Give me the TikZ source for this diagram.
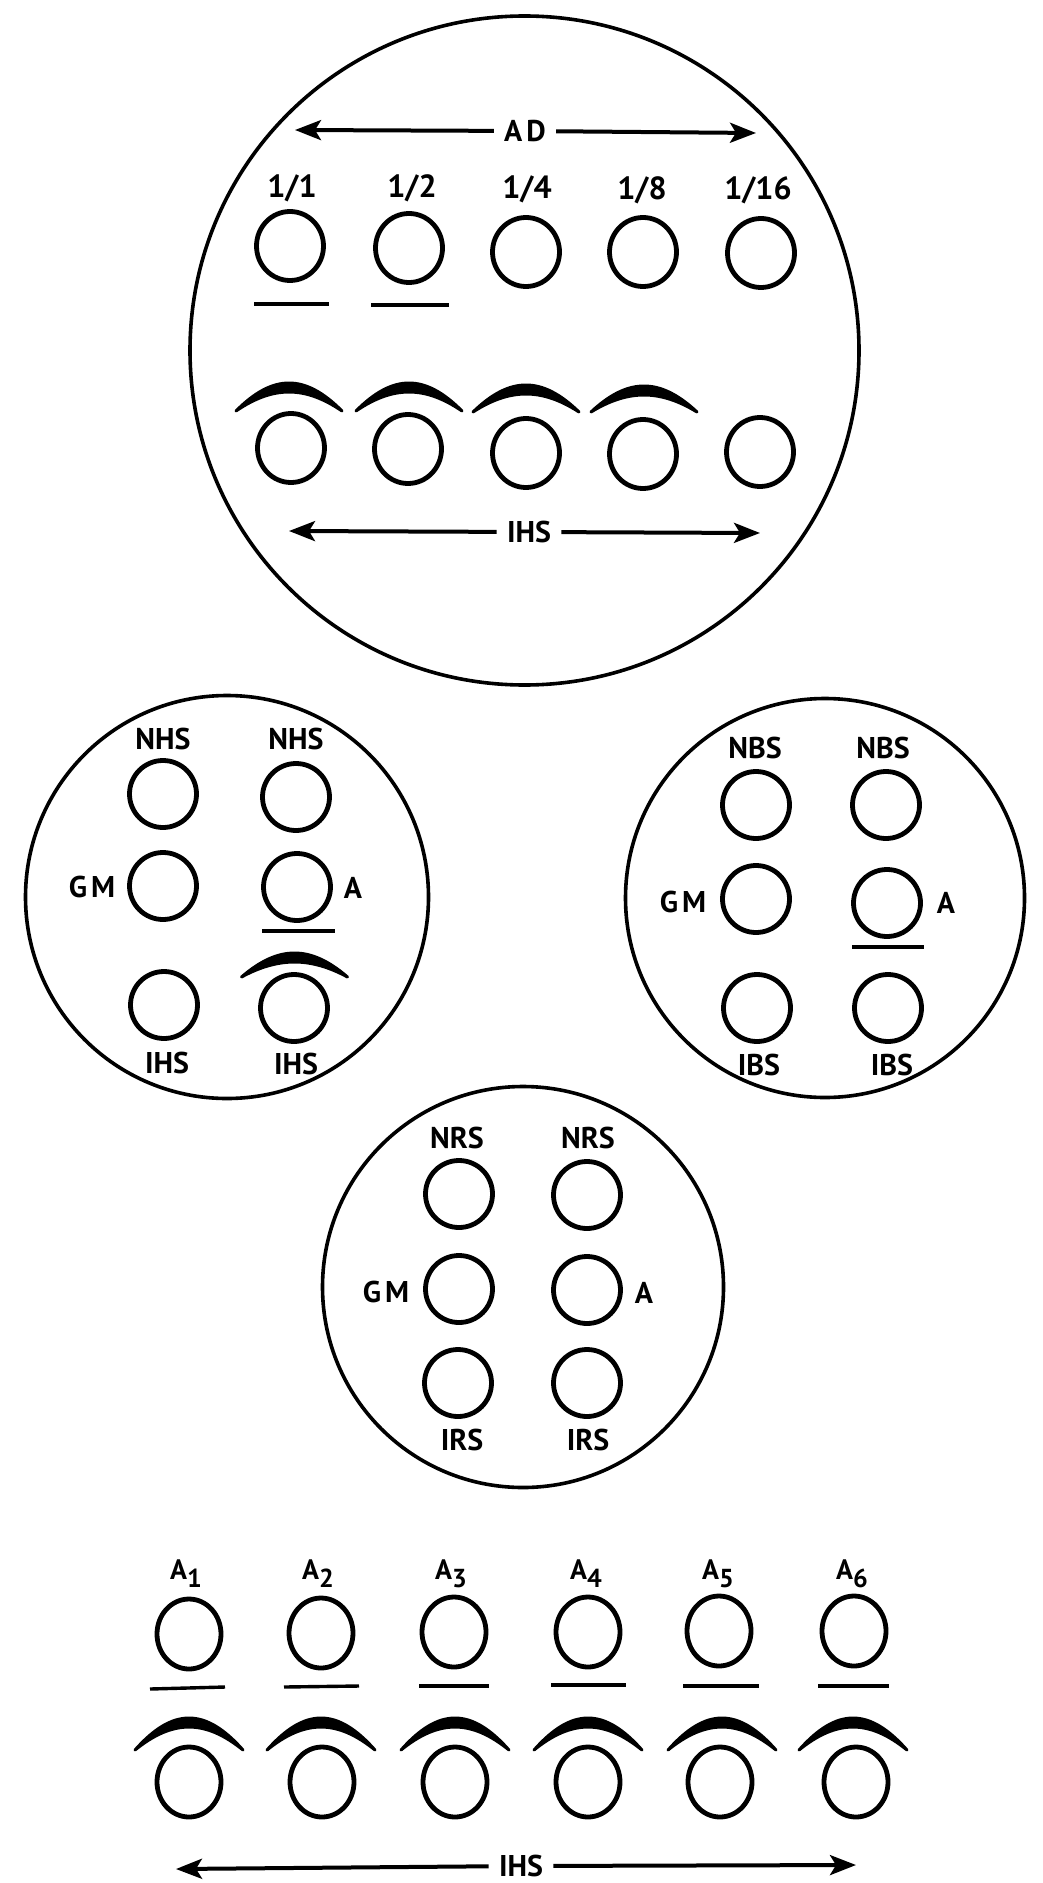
\documentclass[tikz,border=0pt]{standalone}
\usepackage{fontspec}
\setmainfont{PT Sans}
\usetikzlibrary{arrows.meta,shapes.geometric}
\newcommand\brw[4]{%
  \filldraw[browsty] ({#1-#3},{#2+#4}) .. controls ({#1-0.3*#3},{#2-#4/3}) and ({#1+0.3*#3},{#2-#4/3}) .. ({#1+#3},{#2+#4})
    .. controls ({#1+0.3*#3},{#2+12-#4/3}) and ({#1-0.3*#3},{#2+12-#4/3}) .. cycle;}
\newcommand\sub[1]{\raisebox{-4pt}{\fontsize{13pt}{13pt}\selectfont #1}}
\begin{document}
\begin{tikzpicture}[x=0.5pt,y=-0.5pt,
  bigc/.style={draw,circle,line width=1.8pt,inner sep=0pt},
  spot/.style={draw,ellipse,line width=2.4pt,inner sep=0pt,minimum width=33.5pt,minimum height=34.5pt},
  rspot/.style={draw,circle,line width=2.4pt,inner sep=0pt,minimum size=33.5pt},
  bspot/.style={draw,ellipse,line width=2.4pt,inner sep=0pt,minimum width=32pt,minimum height=35pt},
  lab/.style={font=\bfseries\fontsize{15pt}{15pt}\selectfont,inner sep=0pt},
  frac/.style={font=\bfseries\fontsize{16pt}{16pt}\selectfont,inner sep=0pt},
  alab/.style={font=\bfseries\fontsize{14pt}{14pt}\selectfont,inner sep=0pt},
  arrlab/.style={font=\bfseries\fontsize{15pt}{15pt}\selectfont,inner ysep=0pt,inner xsep=5pt},
  arr/.style={line width=2pt,-{Stealth[length=13pt,width=10pt,inset=3pt]}},
  uline/.style={line width=1.7pt},
  browsty/.style={line width=1.5pt,line join=round,line cap=round}]
\useasboundingbox (0,0) rectangle (1043,1883);
\fill[white] (0,0) rectangle (1043,1883);

% ---------- top big circle ----------
\node[bigc,minimum size=334.5pt] (T) at (524.5,350.5) {};
\node[arrlab] (AD) at (525,131) {A\hspace{2pt}D};
\coordinate (ADl) at (295,130);
\coordinate (ADr) at (756,133);
\draw[arr] (AD) -- (ADl);
\draw[arr] (AD) -- (ADr);
\node[frac] (f1) at (292,188) {1/1};
\node[frac] (f2) at (412,188) {1/2};
\node[frac] (f3) at (527,189) {1/4};
\node[frac] (f4) at (642,190) {1/8};
\node[frac] (f5) at (758,190) {1/16};
\node[spot] (t1) at (290,246) {};
\node[spot] (t2) at (409,248) {};
\node[spot] (t3) at (526,252) {};
\node[spot] (t4) at (643,252) {};
\node[spot] (t5) at (761,253) {};
\draw[uline] (254,304) -- (329,304);
\draw[uline] (371,305) -- (449,305);
\brw{289}{383}{53}{28}
\brw{409}{383}{53}{28}
\brw{526}{385}{53}{27}
\brw{644}{386}{53}{26}
\node[spot] (u1) at (291,448) {};
\node[spot] (u2) at (408,449) {};
\node[spot] (u3) at (526,453) {};
\node[spot] (u4) at (643,454) {};
\node[spot] (u5) at (760,452) {};
\node[arrlab] (IHSa) at (529,532) {IHS};
\coordinate (IHSal) at (289,531);
\coordinate (IHSar) at (760,533);
\draw[arr] (IHSa) -- (IHSal);
\draw[arr] (IHSa) -- (IHSar);

% ---------- left middle circle ----------
\node[bigc,minimum size=201.5pt] (L) at (227,897) {};
\node[lab] (Ln1) at (163,739) {NHS};
\node[lab] (Ln2) at (296,739) {NHS};
\node[rspot] (L1) at (163,794) {};
\node[rspot] (L2) at (296,797) {};
\node[rspot] (L3) at (163,886) {};
\node[rspot] (L4) at (297,887) {};
\node[rspot] (L5) at (164,1005) {};
\node[rspot] (L6) at (294,1008) {};
\node[lab] (Lgm) at (92,887) {G\hspace{2pt}M};
\node[lab] (La) at (353,888) {A};
\draw[uline] (262,931) -- (335,931);
\brw{294.5}{953}{53}{24}
\node[lab] (Li1) at (167,1063) {IHS};
\node[lab] (Li2) at (296,1064) {IHS};

% ---------- right middle circle ----------
\node[bigc,minimum size=199.5pt] (R) at (825,898) {};
\node[lab] (Rn1) at (755,748) {NBS};
\node[lab] (Rn2) at (883,748) {NBS};
\node[rspot] (R1) at (756,805) {};
\node[rspot] (R2) at (886,805) {};
\node[rspot] (R3) at (756,899) {};
\node[rspot] (R4) at (887,903) {};
\node[rspot] (R5) at (757,1008) {};
\node[rspot] (R6) at (888,1008) {};
\node[lab] (Rgm) at (683,902) {G\hspace{2pt}M};
\node[lab] (Ra) at (946,903) {A};
\draw[uline] (852,947) -- (924,947);
\node[lab] (Ri1) at (759,1065) {IBS};
\node[lab] (Ri2) at (892,1065) {IBS};

% ---------- center bottom circle ----------
\node[bigc,minimum size=200.5pt] (C) at (523,1287) {};
\node[lab] (Cn1) at (457,1138) {NRS};
\node[lab] (Cn2) at (588,1138) {NRS};
\node[rspot] (C1) at (459,1194) {};
\node[rspot] (C2) at (587,1195) {};
\node[rspot] (C3) at (459,1289) {};
\node[rspot] (C4) at (587,1290) {};
\node[rspot] (C5) at (458,1383) {};
\node[rspot] (C6) at (587,1383) {};
\node[lab] (Cgm) at (386,1292) {G\hspace{2pt}M};
\node[lab] (Ca) at (644,1293) {A};
\node[lab] (Ci1) at (462,1440) {IRS};
\node[lab] (Ci2) at (588,1440) {IRS};

% ---------- bottom row ----------
\node[alab] (A1) at (186,1574) {A\sub{1}};
\node[alab] (A2) at (318,1574) {A\sub{2}};
\node[alab] (A3) at (451,1574) {A\sub{3}};
\node[alab] (A4) at (586,1574) {A\sub{4}};
\node[alab] (A5) at (718,1574) {A\sub{5}};
\node[alab] (A6) at (852,1574) {A\sub{6}};
\node[bspot] (b1) at (189,1634) {};
\node[bspot] (b2) at (321,1633) {};
\node[bspot] (b3) at (454,1632) {};
\node[bspot] (b4) at (588,1632) {};
\node[bspot] (b5) at (719,1631) {};
\node[bspot] (b6) at (854,1631) {};
\draw[uline] (150,1689) -- (225,1687);
\draw[uline] (284,1687) -- (359,1686);
\draw[uline] (419,1686) -- (489,1686);
\draw[uline] (551,1685) -- (626,1685);
\draw[uline] (683,1686) -- (759,1686);
\draw[uline] (818,1686) -- (889,1686);
\brw{189}{1718}{54}{32}
\brw{321}{1718}{54}{32}
\brw{455}{1718}{54}{32}
\brw{588}{1718}{54}{32}
\brw{722}{1718}{54}{32}
\brw{853}{1718}{54}{32}
\node[bspot] (d1) at (189,1782) {};
\node[bspot] (d2) at (322,1782) {};
\node[bspot] (d3) at (455,1782) {};
\node[bspot] (d4) at (588,1782) {};
\node[bspot] (d5) at (720,1782) {};
\node[bspot] (d6) at (856,1782) {};
\node[arrlab] (IHSb) at (521,1866) {IHS};
\coordinate (IHSbl) at (176,1869);
\coordinate (IHSbr) at (856,1865);
\draw[arr] (IHSb) -- (IHSbl);
\draw[arr] (IHSb) -- (IHSbr);
\end{tikzpicture}
\end{document}
